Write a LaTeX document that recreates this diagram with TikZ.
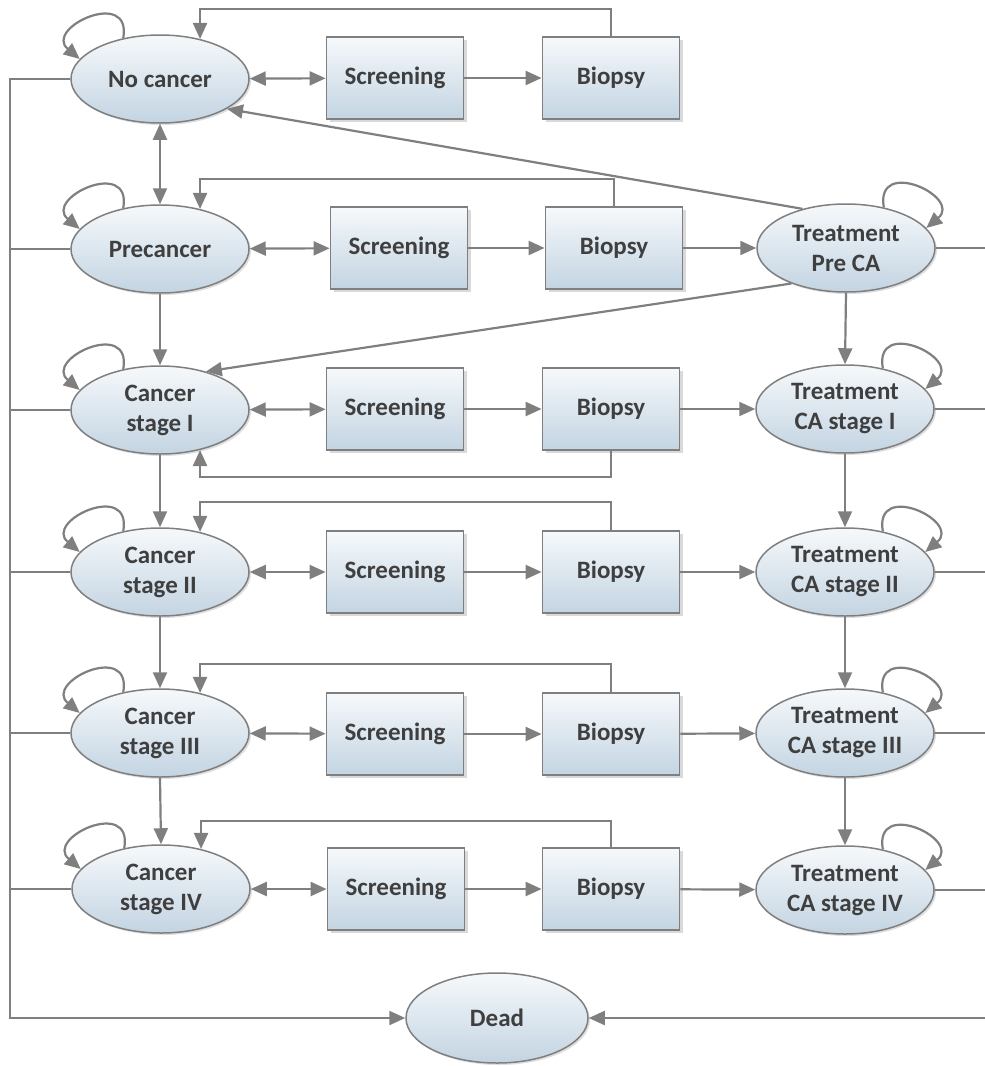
\documentclass[tikz,border=0pt]{standalone}
\usepackage{fontspec}
\setmainfont{Carlito}
\usepackage{tikz}
\usetikzlibrary{shapes.geometric}
\usetikzlibrary{arrows.meta}
\usetikzlibrary{shadows}
\definecolor{linegrey}{HTML}{7F7F7F}
\definecolor{textgrey}{HTML}{3F3F3F}
\definecolor{filltop}{HTML}{F6F9FB}
\definecolor{fillbottom}{HTML}{C3D4E2}
\tikzset{
   state/.style={ellipse, draw=linegrey, line width=1.5pt,
      top color=filltop, bottom color=fillbottom,
      minimum width=178pt, minimum height=88pt, inner sep=0pt,
      align=center, text=textgrey,
      font=\fontsize{25}{30}\selectfont\bfseries,
      drop shadow={shadow xshift=2pt, shadow yshift=-2pt, opacity=0.25}},
   testbox/.style={rectangle, draw=linegrey, line width=1.8pt,
      top color=filltop, bottom color=fillbottom,
      minimum width=137pt, minimum height=82pt, inner sep=0pt,
      text=textgrey, font=\fontsize{25}{30}\selectfont\bfseries,
      drop shadow={shadow xshift=3pt, shadow yshift=-3pt, opacity=0.3}},
   link/.style={draw=linegrey, line width=2.2pt},
   flow/.style={link, -{Triangle[length=16pt,width=14pt]}},
   both/.style={link, {Triangle[length=16pt,width=14pt]}-{Triangle[length=16pt,width=14pt]}},
}
\begin{document}
\begin{tikzpicture}[x=1pt,y=1pt]
            \useasboundingbox (0,0) rectangle (985,-1066);
            % left column
            \node[state] (nc) at (160,-79) {No cancer};
            \node[state] (pre) at (160,-249) {Precancer};
            \node[state] (c1) at (160,-410) {Cancer\\stage I};
            \node[state] (c2) at (160,-572) {Cancer\\stage II};
            \node[state] (c3) at (160,-733) {Cancer\\stage III};
            \node[state] (c4) at (161,-889) {Cancer\\stage IV};
            % screening and biopsy
            \node[testbox] (s0) at (395,-78) {Screening};
            \node[testbox] (b0) at (611,-78) {Biopsy};
            \node[testbox] (s1) at (399,-248) {Screening};
            \node[testbox] (b1) at (614,-248) {Biopsy};
            \node[testbox] (s2) at (395,-409) {Screening};
            \node[testbox] (b2) at (611,-409) {Biopsy};
            \node[testbox] (s3) at (395,-572) {Screening};
            \node[testbox] (b3) at (611,-572) {Biopsy};
            \node[testbox] (s4) at (395,-734) {Screening};
            \node[testbox] (b4) at (611,-734) {Biopsy};
            \node[testbox] (s5) at (396,-889) {Screening};
            \node[testbox] (b5) at (611,-889) {Biopsy};
            % treatment column
            \node[state] (tpre) at (846,-248) {Treatment\\Pre CA};
            \node[state] (t1) at (845,-409) {Treatment\\CA stage I};
            \node[state] (t2) at (845,-572) {Treatment\\CA stage II};
            \node[state] (t3) at (845,-733) {Treatment\\CA stage III};
            \node[state] (t4) at (845,-890) {Treatment\\CA stage IV};
            \node[state, minimum width=182pt, minimum height=90pt] (dead) at (497,-1018) {Dead};
            \coordinate (busL) at (10,-1018);
            \coordinate (busR) at (985,-1018);
            % self loops
            \draw[flow] (nc.132) .. controls +(80:52) and +(140:48) .. (nc.166);
            \draw[flow] (pre.132) .. controls +(80:52) and +(140:48) .. (pre.166);
            \draw[flow] (c1.132) .. controls +(80:52) and +(140:48) .. (c1.166);
            \draw[flow] (c2.132) .. controls +(80:52) and +(140:48) .. (c2.166);
            \draw[flow] (c3.132) .. controls +(80:52) and +(140:48) .. (c3.166);
            \draw[flow] (c4.132) .. controls +(80:52) and +(140:48) .. (c4.166);
            \draw[flow] (tpre.47) .. controls +(100:52) and +(40:48) .. (tpre.14);
            \draw[flow] (t1.47) .. controls +(100:52) and +(40:48) .. (t1.14);
            \draw[flow] (t2.47) .. controls +(100:52) and +(40:48) .. (t2.14);
            \draw[flow] (t3.47) .. controls +(100:52) and +(40:48) .. (t3.14);
            \draw[flow] (t4.47) .. controls +(100:52) and +(40:48) .. (t4.14);
            % rows
            \draw[both] (nc) -- (s0);
            \draw[flow] (s0) -- (b0);
            \draw[both] (pre) -- (s1);
            \draw[flow] (s1) -- (b1);
            \draw[flow] (b1) -- (tpre);
            \draw[both] (c1) -- (s2);
            \draw[flow] (s2) -- (b2);
            \draw[flow] (b2) -- (t1);
            \draw[both] (c2) -- (s3);
            \draw[flow] (s3) -- (b3);
            \draw[flow] (b3) -- (t2);
            \draw[both] (c3) -- (s4);
            \draw[flow] (s4) -- (b4);
            \draw[flow] (b4) -- (t3);
            \draw[both] (c4) -- (s5);
            \draw[flow] (s5) -- (b5);
            \draw[flow] (b5) -- (t4);
            % back from biopsy
            \draw[flow] (b0.north) -- ++(0,27) -| (nc.45);
            \draw[flow] (b1.north) -- ++(0,27) -| (pre.45);
            \draw[flow] (b2.south) -- ++(0,-26) -| (c1.-45);
            \draw[flow] (b3.north) -- ++(0,28) -| (c2.45);
            \draw[flow] (b4.north) -- ++(0,28) -| (c3.45);
            \draw[flow] (b5.north) -- ++(0,26) -| (c4.45);
            % progression
            \draw[both] (nc.south) -- (pre.north);
            \draw[flow] (pre.south) -- (c1.north);
            \draw[flow] (c1.south) -- (c2.north);
            \draw[flow] (c2.south) -- (c3.north);
            \draw[flow] (c3.south) -- (c4.north);
            \draw[flow] (tpre.south) -- (t1.north);
            \draw[flow] (t1.south) -- (t2.north);
            \draw[flow] (t2.south) -- (t3.north);
            \draw[flow] (t3.south) -- (t4.north);
            \draw[flow] (tpre.138) -- (nc.-24);
            \draw[flow] (tpre.213) -- (c1.40);
            % to dead
            \draw[flow] (nc.west) -| (busL) -- (dead.west);
            \draw[link] (pre.west) -- (pre.west -| busL);
            \draw[link] (c1.west) -- (c1.west -| busL);
            \draw[link] (c2.west) -- (c2.west -| busL);
            \draw[link] (c3.west) -- (c3.west -| busL);
            \draw[link] (c4.west) -- (c4.west -| busL);
            \draw[link] (tpre.east) -- (tpre.east -| busR);
            \draw[link] (t1.east) -- (t1.east -| busR);
            \draw[link] (t2.east) -- (t2.east -| busR);
            \draw[link] (t3.east) -- (t3.east -| busR);
            \draw[link] (t4.east) -- (t4.east -| busR);
            \draw[flow] (busR) -- (dead.east);
        \end{tikzpicture}
\end{document}
